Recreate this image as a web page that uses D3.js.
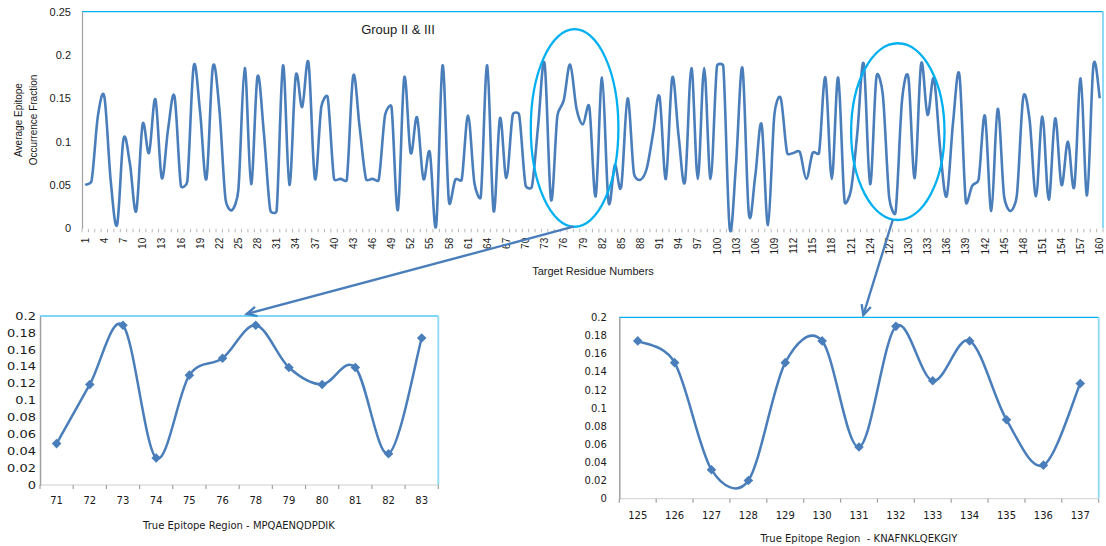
<!DOCTYPE html>
<html>
<head>
<meta charset="utf-8">
<script src="https://cdn.jsdelivr.net/npm/d3@7"></script>
<style>
  html, body { margin: 0; padding: 0; background: #ffffff; }
  svg { display: block; }
</style>
</head>
<body>
<svg id="chart" width="1106" height="546"></svg>
<script>
// ---- Data -------------------------------------------------------------
// Target residue numbers 1..160 along the full protein
const residues = d3.range(1, 161);

// Average epitope occurrence fraction per residue (Group II & III)
const occurrence = [
  0.050, 0.055, 0.130, 0.152, 0.055, 0.004, 0.103, 0.075, 0.020, 0.120,
  0.087, 0.149, 0.058, 0.115, 0.152, 0.049, 0.054, 0.187, 0.135, 0.057,
  0.186, 0.140, 0.033, 0.021, 0.044, 0.185, 0.051, 0.175, 0.110, 0.021,
  0.020, 0.188, 0.050, 0.176, 0.140, 0.191, 0.057, 0.140, 0.151, 0.057,
  0.057, 0.056, 0.176, 0.117, 0.057, 0.057, 0.056, 0.131, 0.140, 0.021,
  0.174, 0.087, 0.128, 0.057, 0.088, 0.003, 0.188, 0.031, 0.056, 0.056,
  0.130, 0.052, 0.037, 0.188, 0.020, 0.127, 0.058, 0.131, 0.131, 0.050,
  0.048, 0.120, 0.190, 0.033, 0.130, 0.148, 0.189, 0.138, 0.120, 0.140,
  0.037, 0.174, 0.031, 0.073, 0.048, 0.150, 0.063, 0.056, 0.069, 0.110,
  0.152, 0.057, 0.174, 0.106, 0.054, 0.185, 0.057, 0.185, 0.057, 0.187,
  0.187, 0.000, 0.075, 0.185, 0.017, 0.060, 0.120, 0.004, 0.131, 0.150,
  0.087, 0.087, 0.088, 0.057, 0.087, 0.087, 0.174, 0.057, 0.174, 0.031,
  0.044, 0.110, 0.190, 0.051, 0.175, 0.154, 0.035, 0.019, 0.147, 0.174,
  0.058, 0.190, 0.131, 0.173, 0.090, 0.037, 0.122, 0.177, 0.031, 0.049,
  0.056, 0.130, 0.020, 0.138, 0.037, 0.020, 0.038, 0.151, 0.125, 0.037,
  0.129, 0.033, 0.127, 0.050, 0.100, 0.048, 0.173, 0.038, 0.188, 0.150
];
const mainYTicks = [0, 0.05, 0.1, 0.15, 0.2, 0.25];

// True epitope region MPQAENQDPDIK
const region1Labels = ["71", "72", "73", "74", "75", "76", "78", "79", "80", "81", "82", "83"];
const region1Values = [0.049, 0.119, 0.189, 0.032, 0.130, 0.150, 0.189, 0.139, 0.119, 0.139, 0.037, 0.174];

// True epitope region KNAFNKLQEKGIY
const region2Labels = ["125", "126", "127", "128", "129", "130", "131", "132", "133", "134", "135", "136", "137"];
const region2Values = [0.174, 0.150, 0.032, 0.020, 0.150, 0.174, 0.057, 0.190, 0.130, 0.174, 0.087, 0.037, 0.127];

const subYTicks = [0, 0.02, 0.04, 0.06, 0.08, 0.1, 0.12, 0.14, 0.16, 0.18, 0.2];

// ---- Styles -----------------------------------------------------------
const lineBlue = "#4a7ebb";
const frameCyan = "#00b0f0";
const frameRight = "#8fd8f6";
const axisGrey = "#a0a0a0";
const textColor = "#1a1a1a";
const mainFont = "'Liberation Sans', Arial, sans-serif";
const subFont = "'DejaVu Sans', sans-serif";
const fmt = d => String(+d.toFixed(2));

// Spreadsheet-style smoothed line: cubic Bezier segments whose control
// points follow the neighbouring points (1/6 tension), with the handle
// length capped at half the segment length so dense points do not overshoot.
function SmoothCurve(context) { this._context = context; }
SmoothCurve.prototype = {
  areaStart() {}, areaEnd() {},
  lineStart() { this._pts = []; },
  point(px, py) { this._pts.push([+px, +py]); },
  lineEnd() {
    const p = this._pts, c = this._context, n = p.length;
    if (!n) return;
    c.moveTo(p[0][0], p[0][1]);
    for (let i = 0; i < n - 1; i++) {
      const p0 = p[Math.max(i - 1, 0)], p1 = p[i], p2 = p[i + 1], p3 = p[Math.min(i + 2, n - 1)];
      const d12 = Math.hypot(p2[0] - p1[0], p2[1] - p1[1]);
      const d02 = Math.hypot(p2[0] - p0[0], p2[1] - p0[1]);
      const d13 = Math.hypot(p3[0] - p1[0], p3[1] - p1[1]);
      const f0 = d02 > 0 ? Math.min(1 / 6, d12 / 2 / d02) : 0;
      const f1 = d13 > 0 ? Math.min(1 / 6, d12 / 2 / d13) : 0;
      c.bezierCurveTo(
        p1[0] + (p2[0] - p0[0]) * f0, p1[1] + (p2[1] - p0[1]) * f0,
        p2[0] - (p3[0] - p1[0]) * f1, p2[1] - (p3[1] - p1[1]) * f1,
        p2[0], p2[1]);
    }
  }
};
const curveSmooth = context => new SmoothCurve(context);

const svg = d3.select("#chart");

// ---- Main chart ---------------------------------------------------------
const M = { left: 82, right: 1103, top: 11.7, bottom: 228.3 };
const x = d3.scaleBand().domain(residues).range([M.left, M.right]);
const bw = x.bandwidth();
const cx = r => x(r) + bw / 2;
// fractional residue position, used for the highlight annotations
const fx = r => M.left + (r - 0.5) * bw;
const y = d3.scaleLinear().domain([0, 0.25]).range([M.bottom, M.top]);

const mainG = svg.append("g");

// plot frame: top and right edges
mainG.append("line")
  .attr("x1", M.left).attr("x2", M.right)
  .attr("y1", y(0.25)).attr("y2", y(0.25))
  .attr("stroke", frameCyan).attr("stroke-width", 1.2);
mainG.append("line")
  .attr("x1", M.right).attr("x2", M.right)
  .attr("y1", y(0.25)).attr("y2", y(0))
  .attr("stroke", frameRight).attr("stroke-width", 2);

// category boundary ticks
mainG.append("g").selectAll("line")
  .data(residues.concat([null]))
  .join("line")
  .attr("x1", d => d === null ? M.right : x(d))
  .attr("x2", d => d === null ? M.right : x(d))
  .attr("y1", y(0) + 0.5).attr("y2", y(0) + 4)
  .attr("stroke", "#b8b8b8").attr("stroke-width", 1);

// y axis
const yAxisG = mainG.append("g")
  .attr("transform", `translate(${M.left},0)`)
  .call(d3.axisLeft(y).tickValues(mainYTicks).tickSize(0).tickPadding(11).tickFormat(fmt));
yAxisG.attr("font-family", mainFont).attr("font-size", 11);
yAxisG.select(".domain").attr("stroke", axisGrey).attr("stroke-width", 1.2);
yAxisG.selectAll("text").attr("fill", textColor);

// x axis labels, every third residue, rotated
const xAxisG = mainG.append("g")
  .attr("transform", `translate(0,${M.bottom})`)
  .call(d3.axisBottom(x).tickValues(residues.filter((d, i) => i % 3 === 0)).tickSize(0));
xAxisG.attr("font-family", mainFont).attr("font-size", 10);
xAxisG.select(".domain").remove();
xAxisG.selectAll("text")
  .attr("transform", "rotate(-90)")
  .attr("text-anchor", "end")
  .attr("x", -9.5).attr("y", 0).attr("dy", "0.36em")
  .attr("fill", textColor);

// occurrence curve
const mainLine = d3.line()
  .x((d, i) => cx(residues[i]))
  .y(d => y(d))
  .curve(curveSmooth);
mainG.append("path")
  .datum(occurrence)
  .attr("d", mainLine)
  .attr("fill", "none")
  .attr("stroke", lineBlue)
  .attr("stroke-width", 2.6)
  .attr("stroke-linejoin", "round");

// titles
mainG.append("text")
  .attr("x", 398).attr("y", 34)
  .attr("text-anchor", "middle")
  .attr("font-family", mainFont).attr("font-size", 13)
  .attr("fill", textColor)
  .text("Group II & III");

mainG.append("text")
  .attr("x", 593).attr("y", 275)
  .attr("text-anchor", "middle")
  .attr("font-family", mainFont).attr("font-size", 11)
  .attr("fill", textColor)
  .text("Target Residue Numbers");

const yTitle = mainG.append("text")
  .attr("transform", "translate(0,120) rotate(-90)")
  .attr("text-anchor", "middle")
  .attr("font-family", mainFont).attr("font-size", 10)
  .attr("fill", textColor);
yTitle.append("tspan").attr("x", 0).attr("y", 21.5).text("Average Epitope");
yTitle.append("tspan").attr("x", 0).attr("y", 36.5).text("Occurrence Fraction");

// ---- Highlighted regions and pointers ---------------------------------
const highlights = [
  { from: 70.83, to: 84.56, lo: 0.0018, hi: 0.2298 },
  { from: 121.03, to: 135.66, lo: 0.0096, hi: 0.2136 }
];
mainG.selectAll("ellipse")
  .data(highlights)
  .join("ellipse")
  .attr("cx", d => (fx(d.from) + fx(d.to)) / 2)
  .attr("cy", d => (y(d.lo) + y(d.hi)) / 2)
  .attr("rx", d => (fx(d.to) - fx(d.from)) / 2)
  .attr("ry", d => (y(d.lo) - y(d.hi)) / 2)
  .attr("fill", "none")
  .attr("stroke", frameCyan)
  .attr("stroke-width", 2.3);

const pointers = [
  { x1: 573.3, y1: 226.7, x2: 246.7, y2: 314 },
  { x1: 892.7, y1: 220,   x2: 863.3, y2: 315 }
];
pointers.forEach(p => {
  svg.append("line")
    .attr("x1", p.x1).attr("y1", p.y1).attr("x2", p.x2).attr("y2", p.y2)
    .attr("stroke", lineBlue).attr("stroke-width", 2.4);
  const ang = Math.atan2(p.y1 - p.y2, p.x1 - p.x2);
  const len = 11, spread = 0.45;
  const a = [p.x2 + len * Math.cos(ang + spread), p.y2 + len * Math.sin(ang + spread)];
  const b = [p.x2 + len * Math.cos(ang - spread), p.y2 + len * Math.sin(ang - spread)];
  svg.append("path")
    .attr("d", `M${a[0]},${a[1]}L${p.x2},${p.y2}L${b[0]},${b[1]}`)
    .attr("fill", "none").attr("stroke", lineBlue)
    .attr("stroke-width", 2.4).attr("stroke-linejoin", "miter");
});

// ---- Epitope region charts ---------------------------------------------
function regionChart(cfg) {
  const g = svg.append("g");
  const sx = d3.scaleBand().domain(cfg.labels).range([cfg.left, cfg.right]);
  const sy = d3.scaleLinear().domain([0, 0.2]).range([cfg.bottom, cfg.top]);
  const scx = l => sx(l) + sx.bandwidth() / 2;

  g.append("line")
    .attr("x1", cfg.left).attr("x2", cfg.right)
    .attr("y1", sy(0.2)).attr("y2", sy(0.2))
    .attr("stroke", frameCyan).attr("stroke-width", 1.2);
  g.append("line")
    .attr("x1", cfg.right).attr("x2", cfg.right)
    .attr("y1", sy(0.2)).attr("y2", sy(0))
    .attr("stroke", frameRight).attr("stroke-width", 1.8);
  g.append("line")
    .attr("x1", cfg.left).attr("x2", cfg.right)
    .attr("y1", sy(0)).attr("y2", sy(0))
    .attr("stroke", "#d0d0d0").attr("stroke-width", 1);

  // category boundary ticks
  g.append("g").selectAll("line")
    .data(cfg.labels.concat([null]))
    .join("line")
    .attr("x1", d => d === null ? cfg.right : sx(d))
    .attr("x2", d => d === null ? cfg.right : sx(d))
    .attr("y1", sy(0)).attr("y2", sy(0) + 4)
    .attr("stroke", axisGrey).attr("stroke-width", 1.2);

  const ya = g.append("g")
    .attr("transform", `translate(${cfg.left},0)`)
    .call(d3.axisLeft(sy).tickValues(subYTicks).tickSize(0).tickPadding(cfg.yPad).tickFormat(fmt));
  ya.attr("font-family", subFont).attr("font-size", 10);
  ya.select(".domain").attr("stroke", axisGrey).attr("stroke-width", 1.5);
  ya.selectAll("text")
    .attr("fill", textColor)
    .attr("x", -cfg.yPad / cfg.yStretch)
    .attr("transform", `scale(${cfg.yStretch},1)`);

  const xa = g.append("g")
    .attr("transform", `translate(0,${sy(0)})`)
    .call(d3.axisBottom(sx).tickSize(0).tickPadding(cfg.xPad));
  xa.attr("font-family", subFont).attr("font-size", 10);
  xa.select(".domain").remove();
  xa.selectAll("text").attr("fill", textColor);

  const ln = d3.line()
    .x((d, i) => scx(cfg.labels[i]))
    .y(d => sy(d))
    .curve(curveSmooth);
  g.append("path")
    .datum(cfg.values)
    .attr("d", ln)
    .attr("fill", "none")
    .attr("stroke", lineBlue)
    .attr("stroke-width", 2.5);

  g.selectAll("path.marker")
    .data(cfg.values)
    .join("path")
    .attr("class", "marker")
    .attr("d", d3.symbol(d3.symbolSquare, 46)())
    .attr("transform", (d, i) => `translate(${scx(cfg.labels[i])},${sy(d)}) rotate(45)`)
    .attr("fill", lineBlue);

  g.append("text")
    .attr("x", cfg.titleX).attr("y", cfg.titleY)
    .attr("text-anchor", "middle")
    .attr("font-family", subFont).attr("font-size", 10)
    .attr("fill", textColor)
    .style("white-space", "pre")
    .text(cfg.title);
}

regionChart({
  labels: region1Labels, values: region1Values,
  left: 40, right: 438.3, top: 316, bottom: 485,
  yPad: 4, yStretch: 1.3, xPad: 12,
  title: "True Epitope Region - MPQAENQDPDIK", titleX: 239, titleY: 529
});

regionChart({
  labels: region2Labels, values: region2Values,
  left: 619.3, right: 1098.7, top: 317.3, bottom: 498.7,
  yPad: 12.5, yStretch: 1, xPad: 13,
  title: "True Epitope Region  - KNAFNKLQEKGIY", titleX: 859, titleY: 542
});
</script>
</body>
</html>
